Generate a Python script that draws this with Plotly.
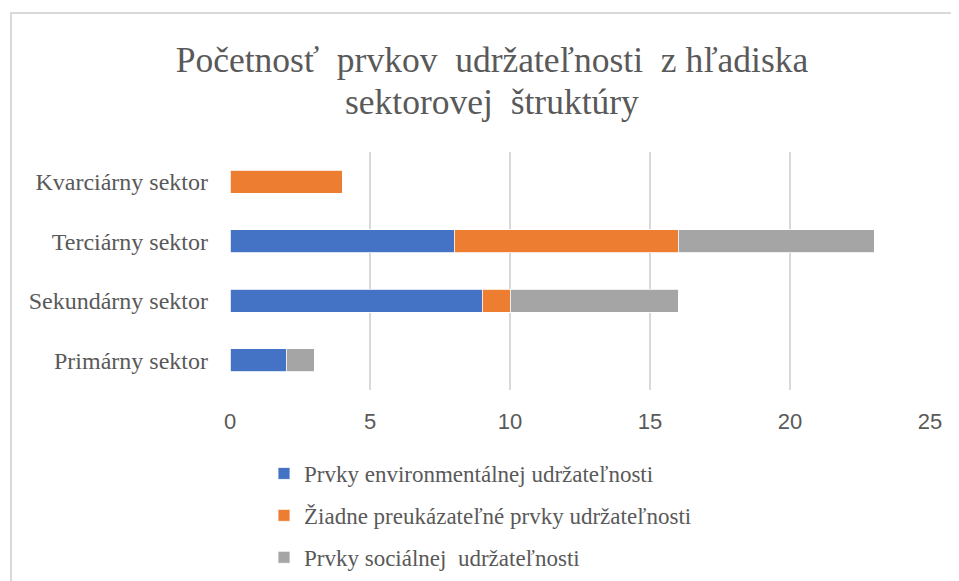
import plotly.graph_objects as go

categories = ["Primárny sektor", "Sekundárny sektor", "Terciárny sektor", "Kvarciárny sektor"]
series_names = [
    "Prvky environmentálnej udržateľnosti",
    "Žiadne preukázateľné prvky udržateľnosti",
    "Prvky sociálnej\u00a0 udržateľnosti",
]
env_values = [2, 9, 8, 0]
none_values = [0, 1, 8, 4]
social_values = [1, 6, 7, 0]
x_ticks = [0, 5, 10, 15, 20, 25]
title_line1 = "Početnosť\u00a0 prvkov\u00a0 udržateľnosti\u00a0 z hľadiska"
title_line2 = "sektorovej\u00a0 štruktúry"
colors = ["#4472C4", "#ED7D31", "#A5A5A5"]

# page body has an 8px default margin; figure is made taller than the
# viewport so the legend never forces the plot area to shrink
OFF = 8
W, H = 959 - OFF, 640
L, R = 230 - OFF, 29
T = 152 - OFF
B = H - (390 - OFF)
PW, PH = W - L - R, H - T - B

def px_x(sx):
    return (sx - OFF - L) / PW

def px_y(sy):
    return (H - B - (sy - OFF)) / PH

fig = go.Figure()
for name, vals, col in zip(series_names, [env_values, none_values, social_values], colors):
    fig.add_trace(go.Bar(
        y=categories, x=vals, name=name, orientation="h",
        marker=dict(color=col, line=dict(color="white", width=0.8)),
        legendgroup=name,
    ))

title_font = dict(family="Liberation Serif", size=35.5, color="#595959")
fig.update_layout(
    width=W, height=H,
    margin=dict(l=L, r=R, t=T, b=B),
    paper_bgcolor="white", plot_bgcolor="white",
    barmode="stack", bargap=0.61,
    title=dict(
        text=title_line1,
        x=(492 - OFF) / W, xanchor="center", y=1 - (60 - OFF) / H, yanchor="middle",
        font=title_font,
    ),
    annotations=[dict(
        text=title_line2, xref="paper", yref="paper",
        x=px_x(492), y=px_y(102), xanchor="center", yanchor="middle",
        showarrow=False, font=title_font,
    )],
    xaxis=dict(
        range=[0, 25], tickvals=x_ticks, showgrid=True, gridcolor="#d9d9d9", gridwidth=1.5,
        zeroline=False, showline=False,
        tickfont=dict(family="Liberation Sans", size=22, color="#595959"),
        ticklabelstandoff=16,
    ),
    yaxis=dict(
        showgrid=False, zeroline=False, showline=False,
        tickfont=dict(family="Liberation Serif", size=24, color="#595959"),
        ticklabelstandoff=21,
    ),
    legend=dict(
        orientation="v", x=px_x(264), xanchor="left", y=px_y(452), yanchor="top",
        font=dict(family="Liberation Serif", size=23, color="#595959"),
        traceorder="grouped", tracegroupgap=9, bgcolor="rgba(0,0,0,0)",
    ),
    shapes=[dict(
        type="rect", xref="paper", yref="paper",
        x0=px_x(11), x1=px_x(975), y0=px_y(700), y1=px_y(13),
        line=dict(color="#d9d9d9", width=2), fillcolor="rgba(0,0,0,0)", layer="below",
    )],
)

fig.write_html("out.html")
